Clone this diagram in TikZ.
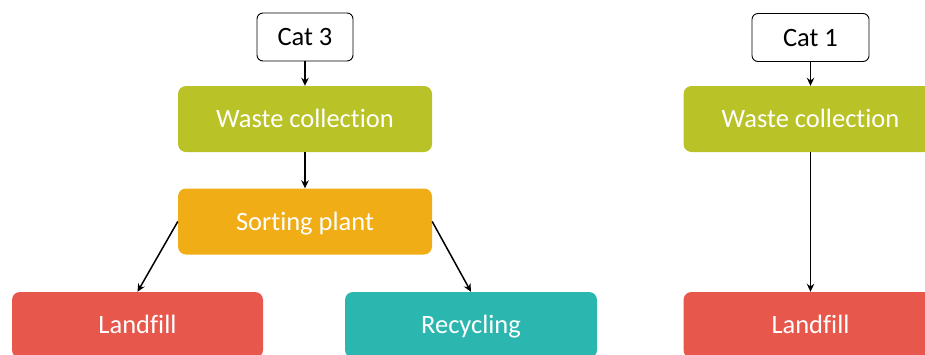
\documentclass[tikz,border=0pt]{standalone}
\usepackage{fontspec}
\setmainfont{Carlito}[Ligatures=NoCommon]
\usetikzlibrary{arrows.meta}
\definecolor{collection}{RGB}{185,194,39}
\definecolor{sorting}{RGB}{240,173,21}
\definecolor{landfill}{RGB}{232,87,75}
\definecolor{recycling}{RGB}{43,183,175}

\begin{document}
\begin{tikzpicture}[x=1pt, y=-1pt]
            \tikzstyle{every node} = [rounded corners=8pt, inner sep=0pt, minimum width=254pt, minimum height=66pt, text=white, text height=23pt, text depth=6pt, font=\fontsize{26.5}{30}\selectfont]
            \tikzstyle{cat} = [draw=black, fill=white, text=black, rounded corners=6pt, line width=0.9pt, minimum height=48pt]
            \tikzstyle{flow} = [-{Stealth[length=8pt, width=7.5pt]}, line width=1.5pt]
            \clip (0,0) rectangle (925,354);

            % Cat 3 chain
            \node[cat, minimum width=96pt] (cat3) at (305, 37) {Cat 3};
            \node[fill=collection] (collect3) at (305, 119) {Waste collection};
            \node[fill=sorting] (sort3) at (305, 221.5) {Sorting plant};
            \node[fill=landfill, minimum width=251pt] (landfill3) at (137.5, 325) {Landfill};
            \node[fill=recycling, minimum width=252pt] (recycle3) at (471, 325) {Recycling};

            % Cat 1 chain
            \node[cat, minimum width=117pt] (cat1) at (810.5, 37.5) {Cat 1};
            \node[fill=collection] (collect1) at (810.5, 119) {Waste collection};
            \node[fill=landfill] (landfill1) at (810.5, 325) {Landfill};

            \draw[flow] (cat3) -- (collect3);
            \draw[flow] (collect3) -- (sort3);
            \draw[flow] (sort3.west) -- (landfill3.north);
            \draw[flow] (sort3.east) -- (recycle3.north);
            \draw[flow] (cat1) -- (collect1);
            \draw[flow] (collect1) -- (landfill1);
        \end{tikzpicture}
\end{document}
